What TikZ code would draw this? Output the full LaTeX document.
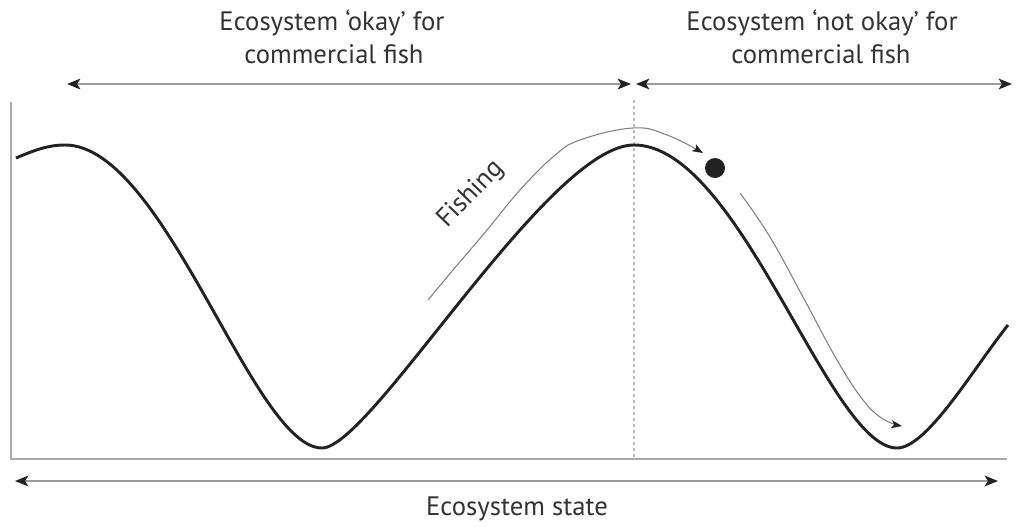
\documentclass[tikz,border=0pt]{standalone}
\usepackage{fontspec}
\setmainfont{PT Sans}
\usetikzlibrary{arrows.meta}
\definecolor{axisgrey}{HTML}{AAAAAA}
\definecolor{arrowgrey}{HTML}{9A9A9A}
\definecolor{curveblack}{HTML}{222222}
\definecolor{textgrey}{HTML}{333333}
\begin{document}
\begin{tikzpicture}[x=0.75pt,y=-0.75pt,
  axisline/.style={draw=axisgrey,line width=1.5pt},
  rangearrow/.style={draw=arrowgrey,line width=1.5pt,
    {Stealth[length=10pt,width=8pt,inset=2.5pt,color=curveblack]}-{Stealth[length=10pt,width=8pt,inset=2.5pt,color=curveblack]}},
  statecurve/.style={draw=curveblack,line width=2.2pt,line join=round},
  fisharrow/.style={draw=gray,line width=0.8pt,-{Stealth[length=8pt,width=6pt,inset=2pt,color=curveblack]}},
  label/.style={font=\fontsize{20}{24.75}\selectfont,text=textgrey,inner sep=0pt,align=center}
]
\useasboundingbox (0,0) rectangle (1025,526);

% axes
\coordinate (ytop) at (11,102);
\coordinate (origin) at (11,459);
\coordinate (xend) at (1007,459);
\draw[axisline] (ytop) -- (origin) -- (xend);

% divider
\coordinate (divtop) at (634,100);
\coordinate (divbot) at (634,458);
\draw[draw=axisgrey!80,line width=1.5pt,dash pattern=on 2.25pt off 2.25pt] (divtop) -- (divbot);

% range arrows
\coordinate (okL) at (67,84);
\coordinate (okR) at (631,84);
\coordinate (nokL) at (636,84);
\coordinate (nokR) at (1012,84);
\coordinate (stL) at (15,481);
\coordinate (stR) at (998,481);
\draw[rangearrow] (okL) -- (okR);
\draw[rangearrow] (nokL) -- (nokR);
\draw[rangearrow] (stL) -- (stR);

% curve
\coordinate (c0) at (16,158);
\coordinate (peak1) at (65,145);
\coordinate (trough1) at (322,448);
\coordinate (peak2) at (634,145);
\coordinate (trough2) at (897,448);
\coordinate (c5) at (1008,325);
\draw[statecurve] (c0) .. controls (35,150) and (48,145) .. (peak1)
  .. controls (165,145) and (253,448) .. (trough1)
  .. controls (371,448) and (548,145) .. (peak2)
  .. controls (740,145) and (829,448) .. (trough2)
  .. controls (927,448) and (973,369) .. (c5);

% fishing arrows
\draw[fisharrow] plot[smooth,tension=0.7] coordinates {
 (428,300) (453,270) (487,230) (520,190) (553,157) (580,140) (633,128)
 (667,135) (703,153)};
\draw[fisharrow] plot[smooth,tension=0.7] coordinates {
 (740,193) (770,237) (803,297) (837,360) (863,400) (883,419) (902,426)};

% ball
\node[circle,fill=curveblack,minimum size=15pt,inner sep=0pt] (ball) at (715,168) {};

% labels
\node[label,anchor=base] (okay1) at (332,30) {Ecosystem ‘okay’ for};
\node[label,anchor=base] (okay2) at (334,63) {commercial fish};
\node[label,anchor=base] (nokay1) at (822,30) {Ecosystem ‘not okay’ for};
\node[label,anchor=base] (nokay2) at (821,63) {commercial fish};
\node[label,anchor=base] (state) at (517,515) {Ecosystem state};
\node[label,anchor=base,rotate=46] (fishing) at (476,199) {Fishing};
\end{tikzpicture}
\end{document}
